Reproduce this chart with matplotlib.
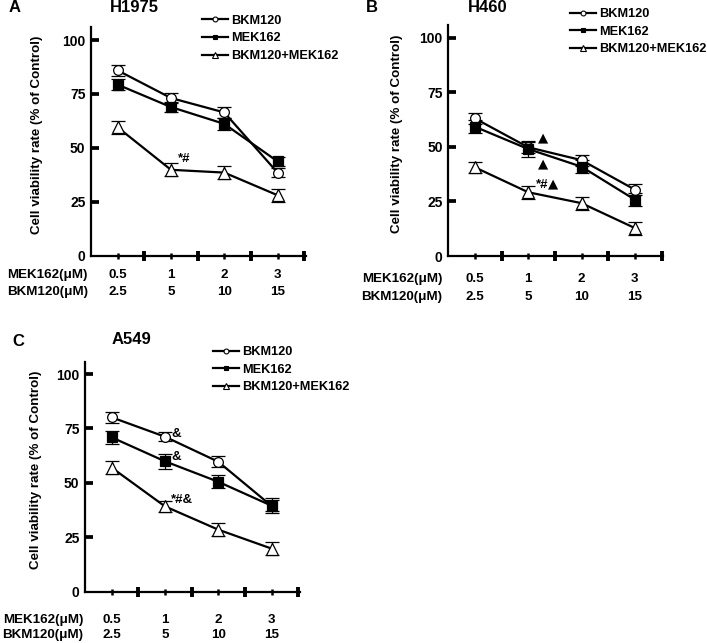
import numpy as np
import matplotlib.pyplot as plt
from matplotlib.lines import Line2D

plt.rcParams['font.family'] = ['Liberation Sans', 'DejaVu Sans']
plt.rcParams['font.weight'] = 'bold'

mek_doses = ["0.5", "1", "2", "3"]
bkm_doses = ["2.5", "5", "10", "15"]
series_names = ["BKM120", "MEK162", "BKM120+MEK162"]

# H1975
h1975_bkm = [85.9, 73.1, 66.4, 38.5]
h1975_mek = [79.3, 68.9, 61.1, 43.7]
h1975_combo = [59.5, 39.8, 38.5, 28.0]
h1975_bkm_err = [2.5, 2.5, 2.5, 2.0]
h1975_mek_err = [2.5, 2.5, 2.8, 2.0]
h1975_combo_err = [3.0, 3.0, 3.0, 3.0]

# H460
h460_bkm = [63.0, 49.8, 43.9, 30.4]
h460_mek = [59.2, 49.0, 40.9, 25.8]
h460_combo = [40.6, 29.2, 24.2, 12.8]
h460_bkm_err = [2.5, 2.5, 2.5, 2.5]
h460_mek_err = [3.0, 3.5, 3.0, 3.0]
h460_combo_err = [2.5, 3.0, 3.0, 3.0]

# A549
a549_bkm = [80.1, 71.2, 59.7, 39.4]
a549_mek = [70.9, 59.9, 50.5, 39.5]
a549_combo = [57.0, 39.2, 28.5, 19.8]
a549_bkm_err = [2.5, 2.0, 2.5, 2.5]
a549_mek_err = [3.0, 3.5, 3.0, 3.5]
a549_combo_err = [3.0, 2.5, 3.0, 3.0]

W, H = 707, 643
fig = plt.figure(figsize=(W / 100, H / 100), dpi=100)

styles = [
    dict(marker='o', markerfacecolor='white', markersize=7),
    dict(marker='s', markerfacecolor='black', markersize=7),
    dict(marker='^', markerfacecolor='white', markersize=8.5),
]


def panel(left, zero_y, px_per_unit, ytop_px, vals, errs, letter, title,
          title_pos, letter_pos, leg_pos, row_off, label_dx, ylab_x):
    xmax = 4.03
    width = xmax * 53.3
    ymax = (zero_y - ytop_px) / px_per_unit
    height = zero_y - ytop_px
    ax = fig.add_axes([left / W, 1 - zero_y / H, width / W, height / H])
    x = np.arange(4) + 0.5
    for v, e, st in zip(vals, errs, styles):
        ax.errorbar(x, v, yerr=e, fmt='none', ecolor='black', elinewidth=0.9,
                    capsize=5, capthick=0.9, zorder=2)
        ax.plot(x, v, color='black', lw=1.6, markeredgecolor='black',
                markeredgewidth=0.9, zorder=3, **st)
    ax.set_xlim(0, xmax)
    ax.set_ylim(0, ymax)
    for s in ['top', 'right']:
        ax.spines[s].set_visible(False)
    for s in ['left', 'bottom']:
        ax.spines[s].set_linewidth(1.6)
    ax.set_yticks([0, 25, 50, 75, 100])
    ax.set_yticklabels(['0', '25', '50', '75', '100'], fontsize=10,
                       fontweight='bold')
    ax.tick_params(axis='y', direction='in', length=5.5, width=2.7, pad=4)
    ax.yaxis.get_major_ticks()[0].tick1line.set_visible(False)
    ax.set_xticks([1, 2, 3, 4])
    ax.set_xticks(x, minor=True)
    ax.tick_params(axis='x', which='major', direction='inout', length=7.5,
                   width=2.8, labelbottom=False)
    ax.tick_params(axis='x', which='minor', direction='inout', length=4.5,
                   width=1.8, labelbottom=False)
    ax.set_ylabel("Cell viability rate (% of Control)", fontsize=9.6,
                  fontweight='bold')
    ax.yaxis.set_label_coords(ylab_x, 0.53)

    # dose rows under the axis
    for i in range(4):
        ax.annotate(mek_doses[i], xy=(x[i], 0), xycoords=('data', 'axes fraction'),
                    xytext=(0, -row_off[0] * 0.72), textcoords='offset points',
                    ha='center', va='center', fontsize=9.6, fontweight='bold')
        ax.annotate(bkm_doses[i], xy=(x[i], 0), xycoords=('data', 'axes fraction'),
                    xytext=(0, -row_off[1] * 0.72), textcoords='offset points',
                    ha='center', va='center', fontsize=9.6, fontweight='bold')
    ax.annotate("MEK162(μM)", xy=(0, 0), xycoords='axes fraction',
                xytext=(label_dx * 0.72, -row_off[0] * 0.72),
                textcoords='offset points', ha='right', va='center',
                fontsize=9.6, fontweight='bold')
    ax.annotate("BKM120(μM)", xy=(0, 0), xycoords='axes fraction',
                xytext=(label_dx * 0.72, -row_off[1] * 0.72),
                textcoords='offset points', ha='right', va='center',
                fontsize=9.6, fontweight='bold')

    fig.text(title_pos[0] / W, 1 - title_pos[1] / H, title, fontsize=12,
             fontweight='bold', ha='center', va='center')
    fig.text(letter_pos[0] / W, 1 - letter_pos[1] / H, letter, fontsize=12,
             fontweight='bold', ha='center', va='center')

    handles = [Line2D([], [], color='black', lw=1.6, markeredgecolor='black',
                      markeredgewidth=0.8, **st) for st in styles]
    ax.legend(handles, series_names, loc='upper left',
              bbox_to_anchor=(leg_pos[0] / W, 1 - leg_pos[1] / H),
              bbox_transform=fig.transFigure, frameon=False, borderpad=0,
              borderaxespad=0, handlelength=2.0, handletextpad=0.3,
              labelspacing=0.45, markerscale=0.5,
              prop=dict(size=9.2, weight='bold'))
    return ax


axA = panel(91, 255.6, 2.156, 27,
            [h1975_bkm, h1975_mek, h1975_combo],
            [h1975_bkm_err, h1975_mek_err, h1975_combo_err],
            "A", "H1975", (134, 8), (15, 8), (202, 14.5), (19, 36.7), -3, -0.223)
axA.text(1.75, 44.7, "*#", ha='center', va='center', fontsize=9.5,
         fontweight='bold')

axB = panel(448.3, 256, 2.183, 25,
            [h460_bkm, h460_mek, h460_combo],
            [h460_bkm_err, h460_mek_err, h460_combo_err],
            "B", "H460", (488, 8), (372, 8), (570, 8), (23, 40.7), -6, -0.211)
axB.text(1.78, 54.0, "▲", ha='center', va='center', fontsize=9.5,
         family=['DejaVu Sans'])
axB.text(1.78, 42.0, "▲", ha='center', va='center', fontsize=9.5,
         family=['DejaVu Sans'])
axB.text(1.87, 32.6, "*#", ha='right', va='center', fontsize=9.5,
         fontweight='bold')
axB.text(1.87, 32.8, "▲", ha='left', va='center', fontsize=9.5,
         family=['DejaVu Sans'])

axC = panel(85, 591.7, 2.177, 361.7,
            [a549_bkm, a549_mek, a549_combo],
            [a549_bkm_err, a549_mek_err, a549_combo_err],
            "C", "A549", (131, 340), (18, 342), (213, 346), (28.3, 43.3), -2, -0.20)
axC.text(1.62, 72.4, "&", ha='left', va='center', fontsize=9.5,
         fontweight='bold')
axC.text(1.62, 61.7, "&", ha='left', va='center', fontsize=9.5,
         fontweight='bold')
axC.text(1.61, 42.0, "*#&", ha='left', va='center', fontsize=9.5,
         fontweight='bold')

fig.savefig("out.png", dpi=100)
